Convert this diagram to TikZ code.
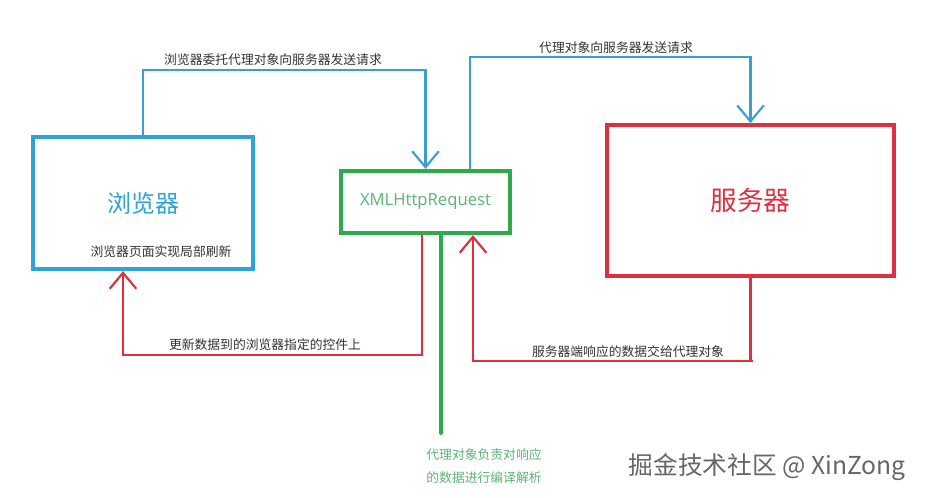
\documentclass[tikz,border=0pt]{standalone}
\usepackage{fontspec}
\setmainfont{Noto Sans CJK SC}
\newfontfamily\latinfont{Open Sans}
\usetikzlibrary{arrows.meta}
\definecolor{boxblue}{HTML}{2EA3D8}
\definecolor{lineblue}{HTML}{3A9FD0}
\definecolor{boxgreen}{HTML}{2EAA4A}
\definecolor{boxred}{HTML}{E0303F}
\definecolor{textgreen}{HTML}{5AB575}
\definecolor{textgrey}{HTML}{333333}
\begin{document}
\begin{tikzpicture}[x=0.75pt,y=0.75pt,yscale=-1,
  box/.style={draw,line width=3.2pt},
  flow/.style={line width=1.6pt,-{Straight Barb[length=12pt,width=20pt]}},
  note/.style={font=\fontsize{9.6}{17}\selectfont,text=textgrey,inner sep=0pt}]
\useasboundingbox[fill=white] (0,0) rectangle (927,498);

%Shape: Rectangle [browser]
\node[box,draw=boxblue,text=boxblue,minimum width=165pt,minimum height=99pt,font=\fontsize{18}{20}\selectfont] (browser) at (143,203) {浏览器};
%Shape: Rectangle [xhr]
\node[box,draw=boxgreen,text=textgreen,minimum width=126.75pt,minimum height=46.5pt,font=\latinfont\fontsize{12.5}{14}\selectfont] (xhr) at (425.5,202) {XMLHttpRequest};
%Shape: Rectangle [server]
\node[box,draw=boxred,text=boxred,minimum width=215pt,minimum height=113pt,font=\fontsize{20}{24}\selectfont] (server) at (750.5,200.5) {服务器};

% bends of the connectors
\coordinate (reqtop) at (300,70);
\coordinate (fwdout) at (470,57);
\coordinate (respbot) at (753,361);
\coordinate (respin) at (473,361);
\coordinate (updout) at (422,355);
\coordinate (updin) at (123,355);
\coordinate (parse) at (441,433);

%Connectors
\draw[flow,lineblue] (browser.north) |- (reqtop) -| (xhr.north);
\draw[flow,lineblue] (xhr.north -| fwdout) -- (fwdout) -| (server.north);
\draw[flow,boxred] (server.south) |- (respbot) -- (respin) -- (xhr.south -| respin);
\draw[flow,boxred] (xhr.south -| updout) -- (updout) -- (updin) -- (browser.south -| updin);
\draw[boxgreen,line width=3pt,line cap=round] (xhr.south -| parse) -- (parse);

% Text Node
\node[note] (refresh) at (161,252) {浏览器页面实现局部刷新};
% Text Node
\node[note] (reqlabel) at (273,60) {浏览器委托代理对象向服务器发送请求};
% Text Node
\node[note] (fwdlabel) at (616,48) {代理对象向服务器发送请求};
% Text Node
\node[note] (updlabel) at (265,345) {更新数据到的浏览器指定的控件上};
% Text Node
\node[note] (resplabel) at (628,352) {服务器端响应的数据交给代理对象};
% Text Node
\node[note,text=textgreen,align=left] (parselabel) at (484,466) {代理对象负责对响应\\的数据进行编译解析};
% Text Node
\node[text=black!60,inner sep=0pt,font=\fontsize{18.5}{22}\selectfont] (mark) at (767,467) {掘金技术社区 @ XinZong};

\end{tikzpicture}
\end{document}
